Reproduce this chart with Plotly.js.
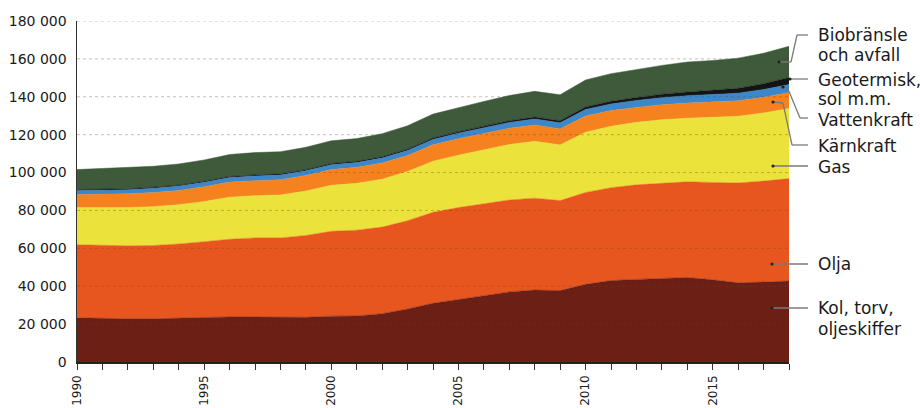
<!DOCTYPE html>
<html>
<head>
<meta charset="utf-8">
<script src="https://cdn.plot.ly/plotly-3.0.1.min.js"></script>
<style>
html,body{margin:0;padding:0;background:#fff;}
#chart{width:920px;height:408px;}
</style>
</head>
<body>
<div id="chart"></div>
<script>
// Data (TWh)
const years = [1990,1991,1992,1993,1994,1995,1996,1997,1998,1999,2000,2001,2002,2003,2004,2005,2006,2007,2008,2009,2010,2011,2012,2013,2014,2015,2016,2017,2018];
const kol    = [23300,23000,22800,22800,23000,23500,23800,23800,23500,23600,24200,24300,25500,28000,31000,33000,35000,37000,38000,37700,41000,43000,43600,44300,44600,43400,41800,42200,42700];
const olja   = [38600,38500,38500,38700,39300,40000,41000,41700,42000,43200,44800,45300,45700,46600,48000,48500,48500,48500,48500,47500,48500,49000,49900,50200,50500,51400,52700,53300,54100];
const gas    = [19600,20000,20200,20500,20700,21200,22200,22300,22700,23400,24300,24700,25300,26000,27000,27700,28400,29300,30000,29400,31800,32400,33000,33400,33600,34300,35200,36000,37000];
const karn   = [6900,7200,7250,7450,7550,7750,7950,7900,8000,8200,8250,8450,8550,8400,8700,8700,8800,8600,8550,8450,8600,8300,7900,7900,8000,8100,8200,8250,8400];
const vatten = [2150,2200,2200,2300,2300,2400,2450,2500,2550,2550,2600,2550,2600,2600,2800,2900,3000,3050,3200,3200,3450,3500,3650,3750,3850,3850,4000,4050,4250];
const geo    = [450,460,470,480,490,500,520,540,560,590,620,640,680,710,760,800,860,930,1020,1100,1250,1400,1600,1800,2000,2300,2600,3100,3700];
const bio    = [10600,10800,11000,11100,11200,11300,11600,11800,11700,11800,12000,12000,12200,12400,12600,12800,13000,13300,13600,13700,14300,14600,14900,15200,15800,15800,15900,16100,16500];

const seriesNames = ["Kol, torv, oljeskiffer","Olja","Gas","Kärnkraft","Vattenkraft","Geotermisk, sol m.m.","Biobränsle och avfall"];
const seriesData = [kol, olja, gas, karn, vatten, geo, bio];
const colors = ["#6c1f15","#e8561f","#ece23c","#f5821f","#3b87c9","#141414","#3e5a3b"];

const traces = seriesData.map((d, i) => ({
  x: years, y: d, name: seriesNames[i],
  type: "scatter", mode: "lines", stackgroup: "one",
  line: {width: 0.5, color: colors[i]}, fillcolor: colors[i],
  hoverinfo: "x+y+name"
}));

// plot geometry helpers (pixel -> paper)
const L = 77, R = 789, T = 21, B = 362;
const px = x => (x - L) / (R - L);
const py = y => (B - y) / (B - T);

const shapes = [];
// dotted gridlines above the areas
for (let v = 20000; v <= 180000; v += 20000) {
  shapes.push({type: "line", xref: "paper", yref: "y", x0: 0, x1: 1, y0: v, y1: v,
    line: {color: "rgba(90,80,40,0.35)", width: 1, dash: "dot"}, layer: "above"});
}
// leader lines
const leaders = [
  [[779,62],[791,62],[797,35],[808,35]],
  [[790,79],[808,79]],
  [[783,87],[788,89],[800,118],[808,118]],
  [[773,102],[783,103],[792,145],[808,145]],
  [[773,166],[808,166]],
  [[772,264],[808,264]],
  [[772,308],[808,308]]
];
leaders.forEach(pts => {
  for (let k = 0; k < pts.length - 1; k++) {
    shapes.push({type: "line", xref: "paper", yref: "paper",
      x0: px(pts[k][0]), y0: py(pts[k][1]), x1: px(pts[k+1][0]), y1: py(pts[k+1][1]),
      line: {color: "#7a7a7a", width: 1.3}, layer: "above"});
  }
  const d = pts[0];
  shapes.push({type: "circle", xref: "paper", yref: "paper",
    x0: px(d[0]-1.6), x1: px(d[0]+1.6), y0: py(d[1]+1.6), y1: py(d[1]-1.6),
    fillcolor: "#222", line: {width: 0}, layer: "above"});
});

const labelLines = [
  ["Biobränsle", 35], ["och avfall", 55],
  ["Geotermisk,", 80], ["sol m.m.", 99],
  ["Vattenkraft", 120], ["Kärnkraft", 146], ["Gas", 167],
  ["Olja", 264], ["Kol, torv,", 308], ["oljeskiffer", 329]
];
const annotations = labelLines.map(([t, y]) => ({
  text: t, xref: "paper", yref: "paper", x: px(816), y: py(y),
  xanchor: "left", yanchor: "middle", showarrow: false,
  font: {family: "DejaVu Sans", size: 17, color: "#1a1a1a"}
}));

const layout = {
  width: 920, height: 408,
  margin: {l: L, r: 920 - R, t: T, b: 408 - B, pad: 0},
  paper_bgcolor: "#fff", plot_bgcolor: "#fff",
  showlegend: false,
  separators: ", ",
  font: {family: "DejaVu Sans", size: 14, color: "#1a1a1a"},
  xaxis: {
    range: [1990, 2018], tickmode: "linear", tick0: 1990, dtick: 5,
    ticks: "outside", ticklen: 6, tickcolor: "#333", tickwidth: 1,
    minor: {dtick: 1, ticks: "outside", ticklen: 6, tickcolor: "#333", tickwidth: 1},
    tickangle: -90, showgrid: false, zeroline: false,
    showline: true, linecolor: "#222", linewidth: 1.5,
    ticklabelstandoff: 1,
    tickfont: {family: "DejaVu Sans", size: 12, color: "#1a1a1a"}
  },
  yaxis: {
    range: [0, 180000], tickmode: "linear", tick0: 0, dtick: 20000,
    tickformat: ",d", ticks: "", showgrid: false, zeroline: false,
    showline: true, linecolor: "#333", linewidth: 1.5,
    ticklabelstandoff: 6,
    tickfont: {family: "DejaVu Sans", size: 14, color: "#1a1a1a"}
  },
  shapes: shapes,
  annotations: annotations
};

Plotly.newPlot("chart", traces, layout, {displayModeBar: false, staticPlot: true});
</script>
</body>
</html>
